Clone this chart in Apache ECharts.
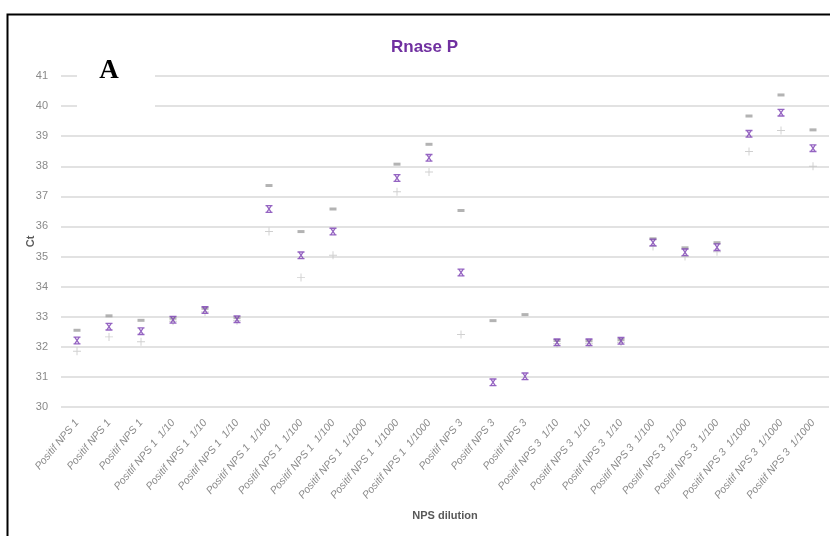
<!DOCTYPE html>
<html>
<head>
<meta charset="utf-8">
<script src="https://cdn.jsdelivr.net/npm/echarts@6/dist/echarts.min.js"></script>
<style>
  html, body { margin: 0; padding: 0; background: #fff; }
  #chart { width: 830px; height: 536px; }
</style>
</head>
<body>
<div id="chart"></div>
<script>
// Sample labels (three replicate wells per dilution)
const categories = [
  'Positif NPS 1', 'Positif NPS 1', 'Positif NPS 1',
  'Positif NPS 1  1/10', 'Positif NPS 1  1/10', 'Positif NPS 1  1/10',
  'Positif NPS 1  1/100', 'Positif NPS 1  1/100', 'Positif NPS 1  1/100',
  'Positif NPS 1  1/1000', 'Positif NPS 1  1/1000', 'Positif NPS 1  1/1000',
  'Positif NPS 3', 'Positif NPS 3', 'Positif NPS 3',
  'Positif NPS 3  1/10', 'Positif NPS 3  1/10', 'Positif NPS 3  1/10',
  'Positif NPS 3  1/100', 'Positif NPS 3  1/100', 'Positif NPS 3  1/100',
  'Positif NPS 3  1/1000', 'Positif NPS 3  1/1000', 'Positif NPS 3  1/1000'
];

// Ct values: highest, mean and lowest of each sample
const ctHigh = [32.55, 33.03, 32.88, 32.95, 33.28, 32.97, 37.36, 35.83, 36.58, null, 38.07, 38.73,
                36.53, 32.87, 33.07, 32.21, 32.20, 32.24, 35.59, 35.29, 35.46, 39.67, 40.37, 39.21];
const ctMean = [32.21, 32.67, 32.52, 32.90, 33.22, 32.92, 36.58, 35.04, 35.83, null, 37.61, 38.28,
                34.47, 30.82, 31.02, 32.15, 32.15, 32.20, 35.47, 35.14, 35.31, 39.08, 39.78, 38.60];
const ctLow  = [31.85, 32.33, 32.17, 32.85, 33.16, 32.87, 35.83, 34.30, 35.04, null, 37.15, 37.81,
                32.41, null, null, 32.10, 32.10, 32.15, 35.33, 35.00, 35.16, 38.49, 39.19, 38.00];

const yTicks = { min: 30, max: 41, step: 1 };

// Marker shapes
const dashSymbol = 'rect';
const crossSymbol = 'path://M4.4,0H5.6V10H4.4Z M0,4.4H10V5.6H0Z';
const xSymbol = 'path://M1,0H9V1.7H1Z M1,8.3H9V10H1Z M1,0L2.8,0L9,10L7.2,10Z M7.2,0L9,0L2.8,10L1,10Z';

const chart = echarts.init(document.getElementById('chart'), null, { renderer: 'canvas' });

chart.setOption({
  backgroundColor: '#ffffff',
  animation: false,
  title: {
    text: 'Rnase P',
    left: 386,
    top: 34,
    textStyle: {
      color: '#7030a0',
      fontSize: 17,
      fontWeight: 'bold',
      fontFamily: 'Liberation Sans, sans-serif'
    }
  },
  grid: { left: 61, right: 1, top: 76, bottom: 129 },
  xAxis: {
    type: 'category',
    data: categories,
    boundaryGap: true,
    name: 'NPS dilution',
    nameLocation: 'middle',
    nameGap: 103,
    nameTextStyle: {
      color: '#595959',
      fontSize: 11,
      fontWeight: 'bold',
      fontFamily: 'Liberation Sans, sans-serif'
    },
    axisLine: { show: false },
    axisTick: { show: false },
    splitLine: { show: false },
    axisLabel: {
      interval: 0,
      rotate: 50,
      margin: 14,
      color: '#8a8a8a',
      fontSize: 10.5,
      fontStyle: 'italic',
      fontFamily: 'Liberation Sans, sans-serif'
    }
  },
  yAxis: {
    type: 'value',
    min: yTicks.min,
    max: yTicks.max,
    interval: yTicks.step,
    name: 'Ct',
    nameLocation: 'middle',
    nameRotate: 90,
    nameGap: 25,
    nameMoveOverlap: false,
    nameTextStyle: {
      color: '#595959',
      fontSize: 11,
      fontWeight: 'bold',
      fontFamily: 'Liberation Sans, sans-serif'
    },
    axisLine: { show: false },
    axisTick: { show: false },
    axisLabel: {
      margin: 13,
      color: '#8a8a8a',
      fontSize: 11,
      fontFamily: 'Liberation Sans, sans-serif'
    },
    splitLine: { lineStyle: { color: '#d9d9d9', width: 1.5 } }
  },
  series: [
    {
      name: 'Haut',
      type: 'scatter',
      data: ctHigh,
      symbol: dashSymbol,
      symbolSize: [7, 3],
      itemStyle: { color: '#a0a0a0' },
      clip: true
    },
    {
      name: 'Bas',
      type: 'scatter',
      data: ctLow,
      symbol: crossSymbol,
      symbolSize: [8, 8],
      itemStyle: { color: '#c4c4c4' },
      clip: true
    },
    {
      name: 'Moyenne',
      type: 'scatter',
      data: ctMean,
      symbol: xSymbol,
      symbolSize: [7, 8],
      itemStyle: { color: '#7a3db3' },
      clip: true
    }
  ],
  graphic: [
    {
      type: 'rect',
      left: 5,
      top: 12,
      shape: { x: 0, y: 0, width: 840, height: 540 },
      style: { fill: 'none', stroke: '#000000', lineWidth: 2 },
      silent: true,
      z: 100
    },
    {
      type: 'rect',
      shape: { x: 77, y: 58, width: 78, height: 54 },
      style: { fill: '#ffffff' },
      silent: true,
      z: 50
    },
    {
      type: 'text',
      x: 109,
      y: 71,
      style: {
        text: 'A',
        fill: '#000000',
        font: 'bold 27px "Liberation Serif", "DejaVu Serif", serif',
        textAlign: 'center',
        textVerticalAlign: 'middle'
      },
      silent: true,
      z: 51
    }
  ]
});
</script>
</body>
</html>
